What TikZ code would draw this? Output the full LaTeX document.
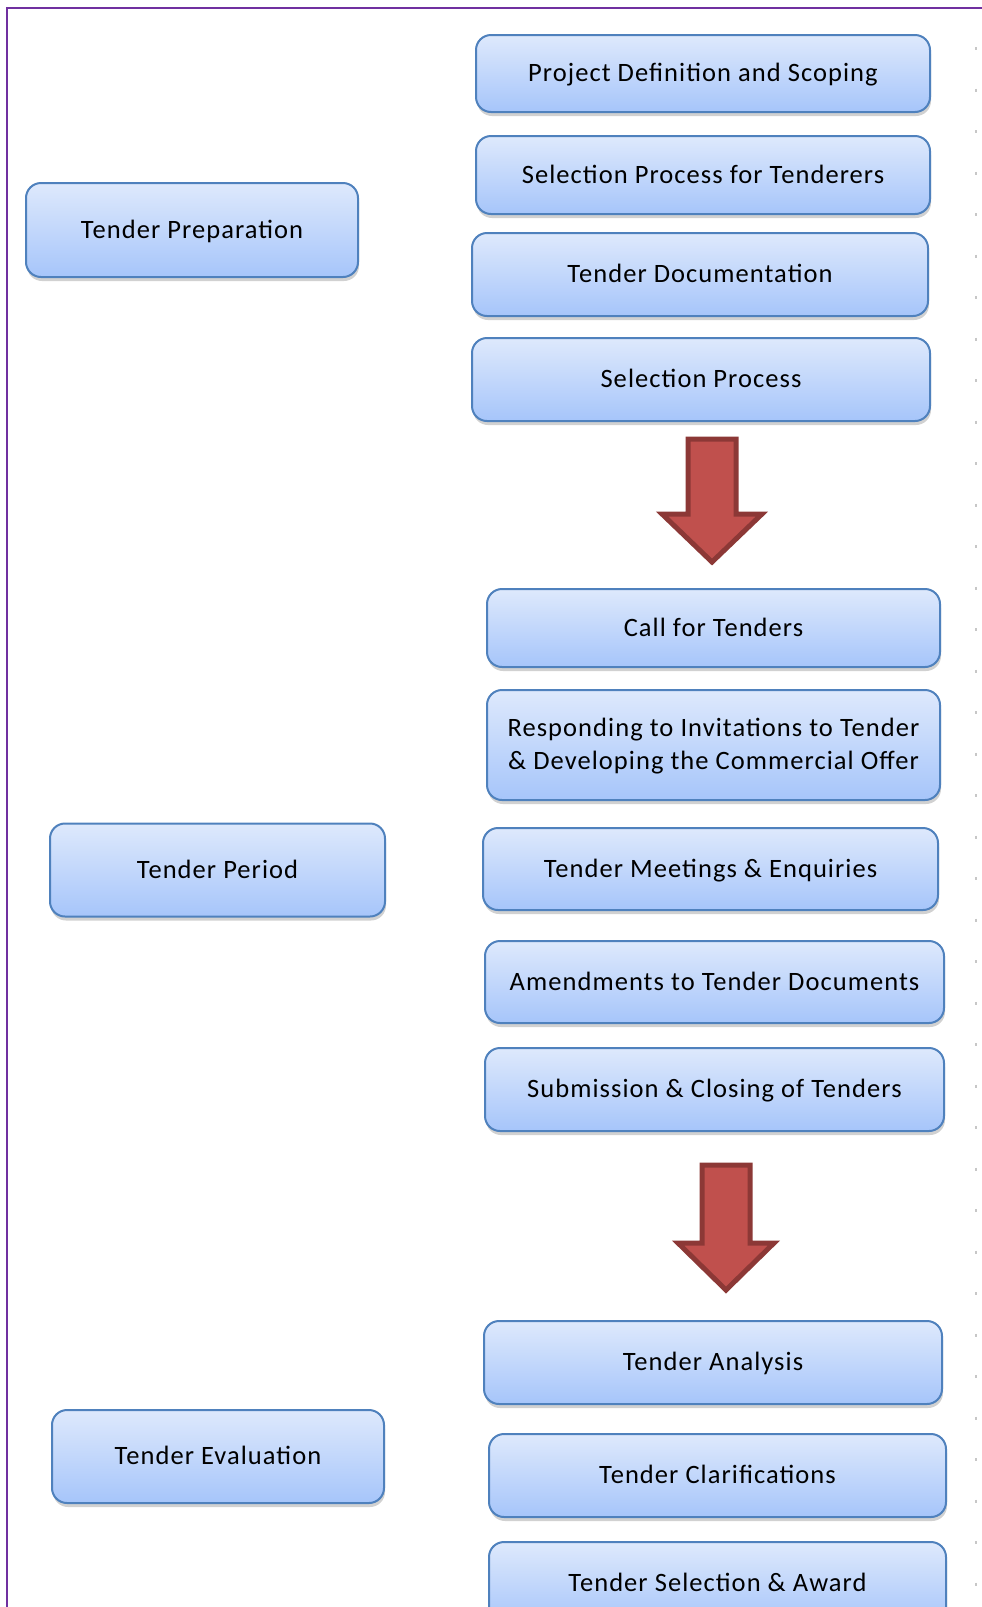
\documentclass[tikz,border=0pt]{standalone}
\usepackage{fontspec}
\setmainfont{Carlito}[LetterSpace=4]
\usetikzlibrary{shadows}
\definecolor{boxtop}{RGB}{222,233,252}
\definecolor{boxbot}{RGB}{166,197,250}
\definecolor{boxline}{RGB}{79,129,189}
\definecolor{arrfill}{RGB}{192,80,77}
\definecolor{arrline}{RGB}{140,56,54}
\definecolor{frame}{RGB}{112,48,160}
\tikzset{
  stage/.style={draw=boxline, line width=2pt, rounded corners=15pt,
    top color=boxtop, bottom color=boxbot,
    drop shadow={shadow xshift=1pt, shadow yshift=-4pt, opacity=0.3, fill=black!60},
    font=\fontsize{26.5}{33}\selectfont, align=center, inner sep=0pt,
    text depth=2pt},
  blockarrow/.style={fill=arrfill, draw=arrline, line width=5pt, line join=miter},
  framestyle/.style={draw=frame, line width=1.5pt},
  rulerstyle/.style={draw=black!22, line width=2pt, dash pattern=on 3pt off 38.5pt}
}
\begin{document}
\begin{tikzpicture}[x=1pt, y=-1pt]
\useasboundingbox (0,0) rectangle (982,1607);
% frame
\coordinate (fbl) at (7,1607);
\coordinate (ftl) at (7,8);
\coordinate (ftr) at (982,8);
\draw[framestyle] (fbl) -- (ftl) -- (ftr);
\coordinate (rt) at (976,47);
\coordinate (rb) at (976,1607);
\draw[rulerstyle] (rt) -- (rb);
% left column
\node[stage, minimum width=332pt, minimum height=94pt] (tprep) at (192,230) {Tender Preparation};
\node[stage, minimum width=335pt, minimum height=93pt] (tper) at (217.5,870) {Tender Period};
\node[stage, minimum width=332pt, minimum height=93pt] (teval) at (218,1456.5) {Tender Evaluation};
% right column
\node[stage, minimum width=454pt, minimum height=77pt] (proj) at (703,73.5) {Project Definition and Scoping};
\node[stage, minimum width=454pt, minimum height=78pt] (selt) at (703,175) {Selection Process for Tenderers};
\node[stage, minimum width=456pt, minimum height=83pt] (tdoc) at (700,274.5) {Tender Documentation};
\node[stage, minimum width=458pt, minimum height=83pt] (selp) at (701,379.5) {Selection Process};
\node[stage, minimum width=453pt, minimum height=78pt] (call) at (713.5,628) {Call for Tenders};
\node[stage, minimum width=453pt, minimum height=110pt] (resp) at (713.5,745) {Responding to Invitations to Tender\\\& Developing the Commercial Offer};
\node[stage, minimum width=455pt, minimum height=82pt] (meet) at (710.5,869) {Tender Meetings \& Enquiries};
\node[stage, minimum width=459pt, minimum height=82pt] (amend) at (714.5,982) {Amendments to Tender Documents};
\node[stage, minimum width=459pt, minimum height=83pt] (subm) at (714.5,1089.5) {Submission \& Closing of Tenders};
\node[stage, minimum width=458pt, minimum height=83pt] (anal) at (713,1362.5) {Tender Analysis};
\node[stage, minimum width=457pt, minimum height=83pt] (clar) at (717.5,1475.5) {Tender Clarifications};
\node[stage, minimum width=457pt, minimum height=83pt] (award) at (717.5,1583.5) {Tender Selection \& Award};
% block arrows
\draw[blockarrow] (688,439) -- (736,439) -- (736,514) -- (762,514) -- (712,562) -- (662,514) -- (688,514) -- cycle;
\draw[blockarrow] (702,1165) -- (750,1165) -- (750,1243) -- (774,1243) -- (726,1290) -- (678,1243) -- (702,1243) -- cycle;
\end{tikzpicture}
\end{document}
